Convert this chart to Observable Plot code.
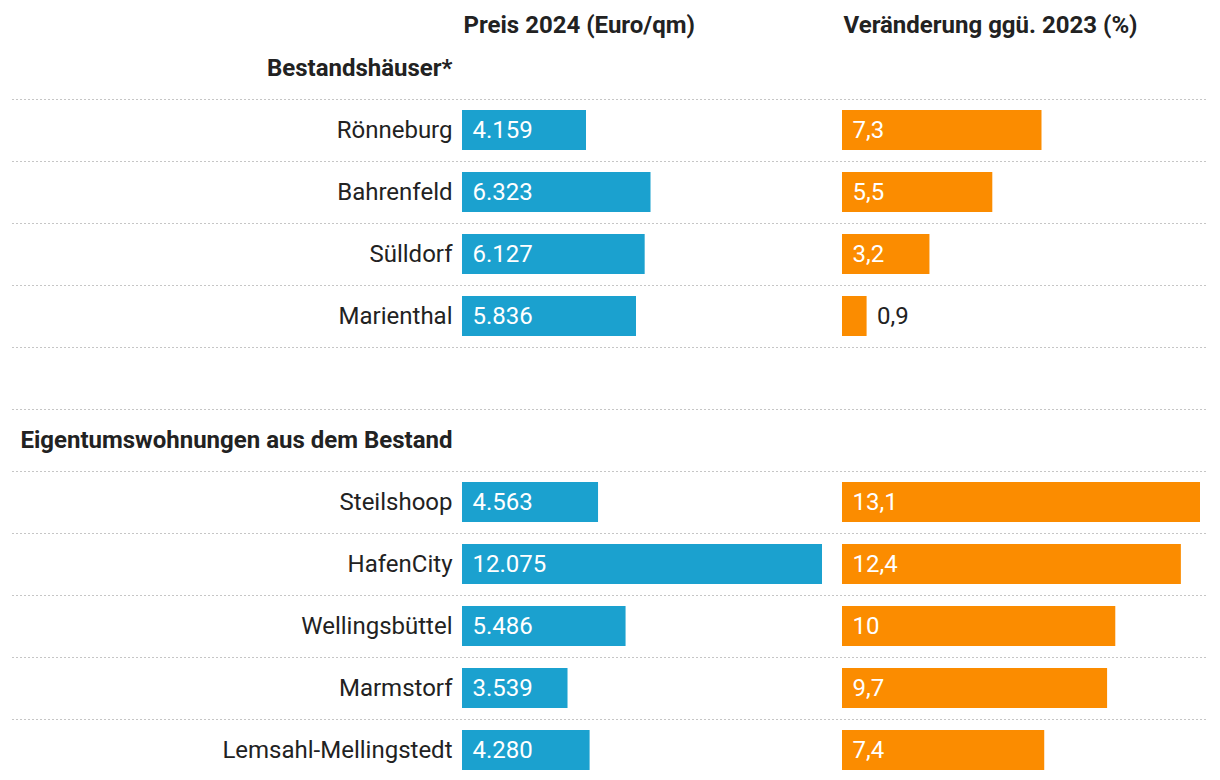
<!DOCTYPE html>
<html>
<head>
<meta charset="utf-8">
<script src="https://cdn.jsdelivr.net/npm/d3@7"></script>
<script src="https://cdn.jsdelivr.net/npm/@observablehq/plot@0.6"></script>
<style>
  html, body { margin: 0; padding: 0; background: #fff; }
  #chart { position: relative; width: 1220px; height: 780px; }
  #chart svg { position: absolute; left: 0; top: 0; }
</style>
</head>
<body>
<div id="chart"></div>
<script>
// ---- data ----
const columnTitles = ["Preis 2024 (Euro/qm)", "Veränderung ggü. 2023 (%)"];
const groupTitles = ["Bestandshäuser*", "Eigentumswohnungen aus dem Bestand"];

const names1 = ["Rönneburg", "Bahrenfeld", "Sülldorf", "Marienthal"];
const price1 = [4159, 6323, 6127, 5836];
const change1 = [7.3, 5.5, 3.2, 0.9];

const names2 = ["Steilshoop", "HafenCity", "Wellingsbüttel", "Marmstorf", "Lemsahl-Mellingstedt"];
const price2 = [4563, 12075, 5486, 3539, 4280];
const change2 = [13.1, 12.4, 10, 9.7, 7.4];

// ---- derived tables ----
const rows = [
  ...names1.map((name, i) => ({name, price: price1[i], change: change1[i]})),
  ...names2.map((name, i) => ({name, price: price2[i], change: change2[i]}))
];
const spacer = " ";
const rowKeys = [groupTitles[0], ...names1, spacer, groupTitles[1], ...names2];
const lineKeys = rowKeys.slice(0, -1);

const de = d3.formatLocale({decimal: ",", thousands: ".", grouping: [3], currency: ["", " €"]});
const fmtPrice = de.format(",d");
const fmtChange = de.format(".1~f");

// ---- styling ----
const W = 1220, H = 780;
const blue = "#1ba1cf", orange = "#fb8c00", ink = "#222222";
const font = "Roboto, 'Noto Sans', sans-serif";
const fs = 24;
const yTop = 37, yBottom = 781;
const step = (yBottom - yTop) / rowKeys.length;
const yScale = {domain: rowKeys, axis: null, range: [yTop, yBottom], round: false, paddingInner: 0.355, paddingOuter: 0.1775};
const baseStyle = {background: "transparent", fontFamily: font, fontSize: fs + "px", color: ink};
const chart = document.getElementById("chart");

// background: dotted separators
const bg = Plot.plot({
  width: W, height: H,
  marginLeft: 12, marginRight: 12, marginTop: yTop, marginBottom: 0,
  style: baseStyle,
  y: yScale,
  marks: [
    Plot.ruleY(lineKeys, {y: d => d, dy: step / 2, stroke: "#c6c6c6", strokeWidth: 1, strokeDasharray: "2,2"})
  ]
});
chart.appendChild(bg);

// price column with row labels
const left = Plot.plot({
  width: W, height: H,
  marginLeft: 462, marginRight: W - 822, marginTop: yTop, marginBottom: 0,
  style: baseStyle,
  x: {domain: [0, d3.max(rows, d => d.price)], axis: null},
  y: yScale,
  marks: [
    Plot.barX(rows, {x: "price", y: "name", fill: blue}),
    Plot.text(rows, {x: 0, y: "name", text: d => fmtPrice(d.price), textAnchor: "start", dx: 10, fill: "white", fontSize: fs}),
    Plot.text(rows, {x: 0, y: "name", text: "name", textAnchor: "end", dx: -10, fill: ink, fontSize: fs}),
    Plot.text(groupTitles, {x: 0, y: d => d, text: d => d, textAnchor: "end", dx: -10, fill: ink, fontSize: fs, fontWeight: "bold"}),
    Plot.text([columnTitles[0]], {x: 0, frameAnchor: "top", text: d => d, textAnchor: "start", lineAnchor: "middle", dx: 1, dy: -12, fill: ink, fontSize: fs, fontWeight: "bold"})
  ]
});
chart.appendChild(left);

// change column
const right = Plot.plot({
  width: W, height: H,
  marginLeft: 842, marginRight: W - 1200, marginTop: yTop, marginBottom: 0,
  style: baseStyle,
  x: {domain: [0, d3.max(rows, d => d.change)], axis: null},
  y: yScale,
  marks: [
    Plot.barX(rows, {x: "change", y: "name", fill: orange}),
    Plot.text(rows.filter(d => d.change >= 2), {x: 0, y: "name", text: d => fmtChange(d.change), textAnchor: "start", dx: 10, fill: "white", fontSize: fs}),
    Plot.text(rows.filter(d => d.change < 2), {x: "change", y: "name", text: d => fmtChange(d.change), textAnchor: "start", dx: 10, fill: ink, fontSize: fs}),
    Plot.text([columnTitles[1]], {x: 0, frameAnchor: "top", text: d => d, textAnchor: "start", lineAnchor: "middle", dx: 1, dy: -12, fill: ink, fontSize: fs, fontWeight: "bold"})
  ]
});
chart.appendChild(right);
</script>
</body>
</html>
